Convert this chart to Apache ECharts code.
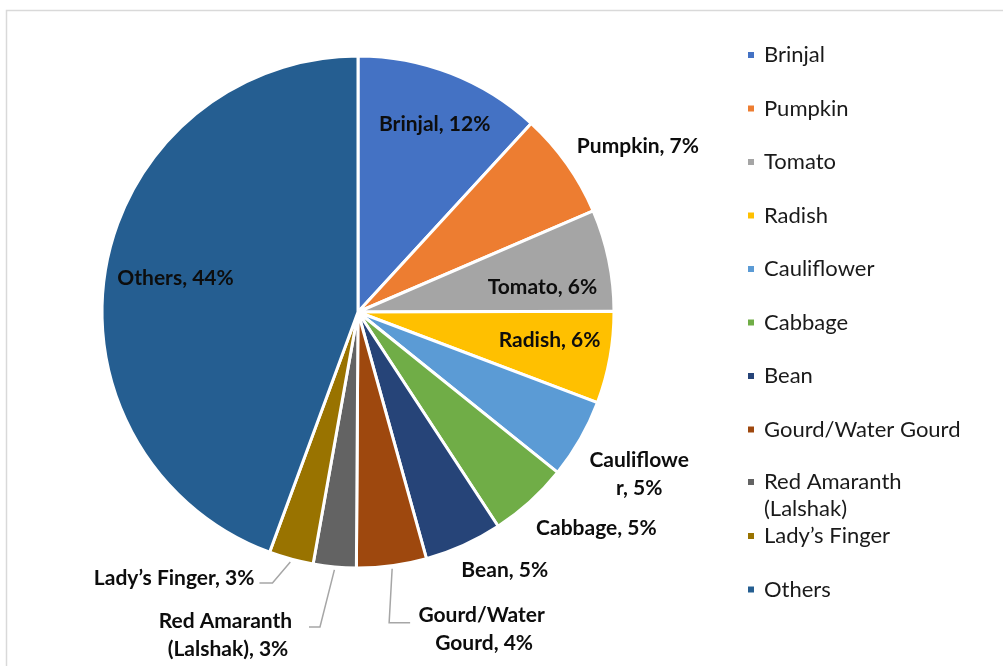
<!DOCTYPE html>
<html>
<head>
<meta charset="utf-8">
<script src="https://cdn.jsdelivr.net/npm/echarts@6/dist/echarts.min.js"></script>
<style>
  html, body { margin: 0; padding: 0; background: #ffffff; }
  #chart { width: 1003px; height: 666px; }
</style>
</head>
<body>
<div id="chart"></div>
<script>
// Vegetable shares (%)
const categories = ['Brinjal', 'Pumpkin', 'Tomato', 'Radish', 'Cauliflower', 'Cabbage', 'Bean',
  'Gourd/Water Gourd', 'Red Amaranth (Lalshak)', 'Lady’s Finger', 'Others'];
const shares = [11.8, 6.7, 6.4, 5.8, 5.0, 5.0, 4.9, 4.4, 2.7, 2.8, 44.3];
const sliceColors = ['#4472C4', '#ED7D31', '#A5A5A5', '#FFC000', '#5B9BD5', '#70AD47',
  '#264478', '#9E480E', '#636363', '#997300', '#255E91'];

// Pie geometry (px)
const CX = 358, CY = 312, R = 256;
const FONT = 'Lato';

// Label placement relative to each slice: radial factor of R, angular shift (deg),
// optional wrap width and leader-line shape.
const labelPlace = [
  { k: 0.793, shift: 0.9 },
  { k: 1.271, shift: 4.7 },
  { k: 0.727, shift: 4.0 },
  { k: 0.756, shift: -2.0 },
  { k: 1.269, shift: 0.3, width: 104, overflow: 'breakAll' },
  { k: 1.257, shift: -5.6 },
  { k: 1.159, shift: -5.3 },
  { k: 1.334, shift: -14.1, width: 140, overflow: 'break', leader: { gap: 4, run: 21, dy: -6.5 } },
  { k: 1.360, shift: 16.7, width: 150, overflow: 'break', leader: { gap: 6, run: 11, dy: -8 } },
  { k: 1.263, shift: 19.5, leader: { gap: 5, run: 13, dy: 5 } },
  { k: 0.725, shift: 0.4 }
];

const total = shares.reduce((a, b) => a + b, 0);
const midAngles = [];
let acc = 0;
shares.forEach(v => { const span = v / total * 360; midAngles.push(acc + span / 2); acc += span; });

const pieData = categories.map((name, i) => {
  const p = labelPlace[i];
  const item = {
    name: name,
    value: shares[i],
    itemStyle: { color: sliceColors[i] },
    label: { position: p.leader ? 'outside' : 'inside' },
    labelLine: { show: !!p.leader }
  };
  if (p.width) {
    item.label.width = p.width;
    item.label.overflow = p.overflow;
  }
  return item;
});

const chart = echarts.init(document.getElementById('chart'), null, { renderer: 'canvas' });

const legendBase = {
  orient: 'vertical', left: 746, padding: 0,
  itemWidth: 8, itemHeight: 8, itemGap: 26.5, icon: 'rect',
  textStyle: {
    fontFamily: FONT, fontSize: 22, color: '#1a1a1a',
    lineHeight: 27, padding: [0, 0, 0, 4]
  }
};

chart.setOption({
  backgroundColor: '#ffffff',
  animation: false,
  graphic: [{
    type: 'rect',
    shape: { x: 6.5, y: 10.5, width: 1200, height: 800 },
    style: { fill: 'none', stroke: '#d9d9d9', lineWidth: 1.5 },
    silent: true
  }],
  legend: [
    Object.assign({}, legendBase, { top: 41.5, data: categories.slice(0, 8) }),
    // two-line entry: a leading blank line keeps its first line level with the marker
    Object.assign({}, legendBase, {
      top: 441.5, data: categories.slice(8, 9),
      formatter: n => '\n' + n.replace(' (', '\n(')
    }),
    Object.assign({}, legendBase, { top: 522.5, data: categories.slice(9) })
  ],
  series: [{
    type: 'pie',
    center: [CX, CY],
    radius: R,
    startAngle: 90,
    clockwise: true,
    avoidLabelOverlap: false,
    itemStyle: { borderColor: '#ffffff', borderWidth: 3 },
    label: {
      fontFamily: FONT, fontSize: 21, fontWeight: 'bold', color: '#0d0d0d',
      lineHeight: 28,
      formatter: p => p.name + ', ' + Math.round(p.percent) + '%'
    },
    labelLine: {
      lineStyle: { color: '#a6a6a6', width: 1.5 }
    },
    labelLayout: function (params) {
      const i = params.dataIndex;
      const p = labelPlace[i];
      const th = (midAngles[i] + p.shift) * Math.PI / 180;
      const x = CX + p.k * R * Math.sin(th);
      const y = CY - p.k * R * Math.cos(th);
      const out = { x: x, y: y, align: 'center', verticalAlign: 'middle' };
      if (p.leader) {
        const m = midAngles[i] * Math.PI / 180;
        const x0 = CX + (R + 3) * Math.sin(m);
        const y0 = CY - (R + 3) * Math.cos(m);
        const w = params.labelRect.width;
        const side = x0 > x ? 1 : -1;
        const x2 = x + side * (w / 2 + p.leader.gap);
        const y1 = y + p.leader.dy;
        const x1 = x2 + side * p.leader.run;
        out.labelLinePoints = [[x0, y0], [x1, y1], [x2, y1]];
      }
      return out;
    },
    data: pieData
  }]
});
</script>
</body>
</html>
